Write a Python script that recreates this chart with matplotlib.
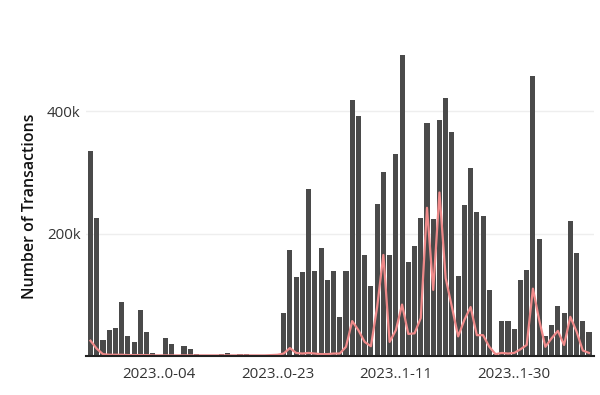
import numpy as np
import pandas as pd
import matplotlib
matplotlib.use("Agg")
import matplotlib.pyplot as plt

plt.rcParams['font.family'] = ['Open Sans', 'DejaVu Sans']

# one bar per day
dates = pd.date_range("2023-09-23", "2023-12-12", freq="D")

# total transactions per day (thousands)
total_k = [335, 226, 26, 42, 45, 88, 33, 23, 75, 40,
           5, 0, 30, 20, 2, 16, 12, 3, 0, 0,
           0, 4, 5, 0, 4, 3.5, 2, 0.5, 1, 1,
           2, 71, 173, 129, 137, 273, 138, 176, 124, 139,
           63, 138, 418, 392, 165, 114, 249, 301, 165, 330,
           492, 154, 180, 226, 381, 223, 385, 421, 365, 131,
           247, 307, 235, 229, 108, 3, 57, 57, 44, 124,
           141, 458, 191, 32, 51, 81, 71, 221, 168, 57,
           39]

# second series drawn as a line (thousands)
line_k = [25, 12, 3, 2, 2, 2, 1.5, 1.5, 1.5, 1.5,
          1, 1, 1, 1, 1, 1, 1, 1, 1, 1,
          1, 1, 1, 1, 1, 1, 1, 1, 1, 1.5,
          2, 4, 13, 5, 4, 5, 4, 3, 3, 4,
          4, 15, 57, 42, 23, 16, 80, 165, 23, 42,
          84, 36, 37, 62, 242, 108, 267, 127, 80, 32,
          59, 80, 34, 34, 15, 3, 5, 4, 5, 11,
          18, 110, 59, 15, 29, 41, 18, 64, 40, 9,
          5]

tick_dates = ["2023-10-04", "2023-10-23", "2023-11-11", "2023-11-30"]
tick_labels = ["2023..0-04", "2023..0-23", "2023..1-11", "2023..1-30"]

x = np.arange(len(dates))
total = np.array(total_k) * 1000
line = np.array(line_k) * 1000

fig = plt.figure(figsize=(6, 3.95), dpi=100)
ax = fig.add_axes([86 / 600, 39 / 395, 508 / 600, 316 / 395])

ax.bar(x, total, width=0.82, color='#4a4a4a', zorder=2)
ax.plot(x, line, color='#f08a8a', linewidth=1.6, zorder=3)

ax.set_xlim(-0.72, 80.8)
ax.set_ylim(0, 516000)

ax.set_yticks([200000, 400000])
ax.set_yticklabels(["200k", "400k"])
ax.set_xticks([dates.get_loc(pd.Timestamp(d)) for d in tick_dates])
ax.set_xticklabels(tick_labels)

ax.tick_params(axis='both', length=0, labelsize=10.8, labelcolor='#333333')
ax.tick_params(axis='x', pad=8)
ax.tick_params(axis='y', pad=4)

ax.set_ylabel("Number of Transactions", fontsize=11.5, fontweight='semibold',
              color='#111111')
ax.yaxis.set_label_coords(-0.094, 0.475)

ax.grid(axis='y', color='#eeeeee', linewidth=1, zorder=0)
ax.set_axisbelow(True)
for side in ['top', 'right', 'left']:
    ax.spines[side].set_visible(False)
ax.spines['bottom'].set_color('#222222')
ax.spines['bottom'].set_linewidth(1.5)
ax.spines['bottom'].set_zorder(4)

fig.savefig("out.png", dpi=100)
